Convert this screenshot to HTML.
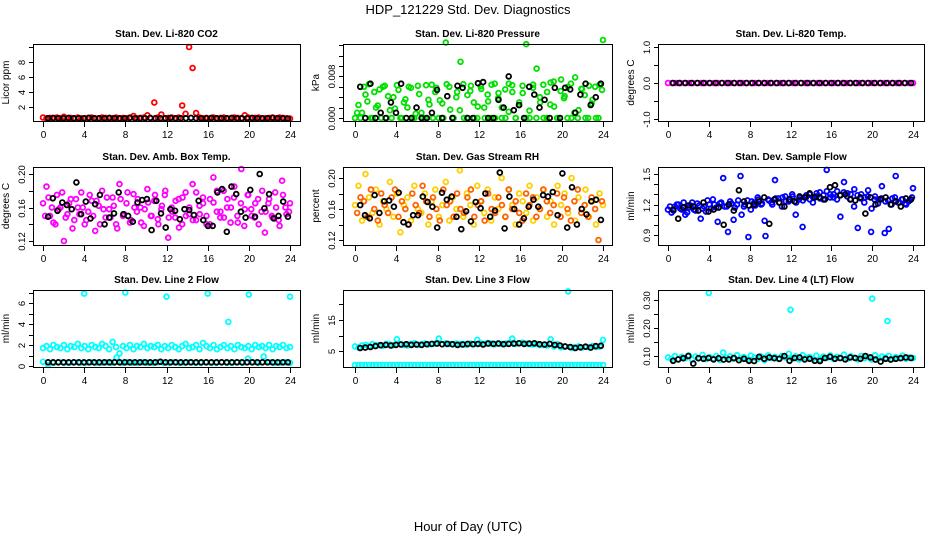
<!DOCTYPE html>
<html><head><meta charset="utf-8"><style>
html,body{margin:0;padding:0;background:#fff}
svg{display:block;font-family:"Liberation Sans",sans-serif}
</style></head><body>
<svg id="c" width="936" height="540" viewBox="0 0 936 540">
<text x="468" y="14" text-anchor="middle" font-size="13">HDP_121229  Std. Dev. Diagnostics</text>
<text x="468" y="531" text-anchor="middle" font-size="13">Hour of Day (UTC)</text>
</svg>
<script>
const xTicks=[0,4,8,12,16,20,24];
const co2Red=[0.6,0.5,0.55,0.5,0.6,0.5,0.7,0.5,0.55,0.5,0.6,0.5,0.5,0.55,0.6,0.5,0.5,0.6,0.55,0.5,0.5,0.6,0.5,0.55,0.5,0.6,0.8,0.5,0.55,0.6,0.9,0.5,2.6,0.6,1.0,0.5,0.55,0.6,0.5,0.6,2.2,1.1,10.0,7.2,1.2,0.6,0.5,0.55,0.5,0.6,0.5,0.55,0.6,0.5,0.5,0.6,0.55,0.5,0.9,0.6,0.5,0.55,0.6,0.5,0.5,0.55,0.6,0.5,0.6,0.55,0.5,0.45];
const co2Black=[0.5,0.55,0.5,0.5,0.55,0.5,0.5,0.5,0.55,0.5,0.5,0.5,0.55,0.5,0.5,0.5,0.55,0.5,0.5,0.5,0.55,0.5,0.5,0.5,0.55,0.5,0.5,0.5,0.55,0.5,0.5,0.5,0.55,0.5,0.5,0.5,0.55,0.5,0.5,0.5,0.55,0.5,0.5,0.5,0.55,0.5,0.5,0.45];
const pressGreenA=[0.0,2.5,1.0,4.5,6.5,0.0,2.0,5.5,6.0,0.0,1.5,4.0,6.3,0.0,3.0,2.0,5.8,0.0,6.2,1.0,0.0,3.5,6.4,5.0,0.0,2.8,14.5,6.0,0.0,4.0,1.5,6.5,0.0,5.2,3.0,0.0,6.1,2.0,4.5,0.0,6.6,3.8,0.0,5.5,1.2,6.3,0.0,2.5,4.8,14.2,0.0,6.4,9.5,3.0,0.0,5.0,6.8,2.2,0.0,7.4,4.2,6.0,0.0,7.8,1.5,5.6,0.0,6.2,3.5,0.0,6.4,15.0];
const pressGreenB=[1.0,0.0,6.0,3.2,0.0,5.0,2.4,0.0,6.2,4.2,0.0,1.8,5.4,0.0,3.6,6.0,0.0,0.8,4.6,0.0,6.3,2.6,0.0,5.8,3.4,0.0,6.5,1.6,0.0,5.0,10.8,0.0,4.4,6.2,0.0,2.2,5.6,0.0,3.2,6.4,0.0,4.8,2.0,0.0,6.6,5.0,0.0,3.0,6.2,0.0,1.4,5.8,0.0,4.0,6.4,0.0,2.6,7.0,0.0,5.2,3.8,0.0,6.6,1.0,0.0,5.6,4.4,0.0,2.8,6.0,0.0,5.4];
const pressBlack=[6.0,0.0,6.6,0.0,1.0,0.0,3.0,1.0,6.6,0.0,0.0,2.0,0.0,0.0,1.0,5.4,0.0,4.2,0.0,6.2,5.8,0.0,0.0,6.7,6.9,0.0,0.0,3.5,2.0,8.0,1.5,2.5,0.0,6.0,4.5,2.0,3.5,0.0,5.8,0.0,5.8,5.5,1.0,4.5,6.6,2.5,4.0,6.6];
const tempMagenta=[0,0,0,0,0,0,0,0,0,0,0,0,0,0,0,0,0,0,0,0,0,0,0,0,0,0,0,0,0,0,0,0,0,0,0,0,0,0,0,0,0,0,0,0,0,0,0,0,0,0,0,0,0,0,0,0,0,0,0,0];
const tempBlack=[0,0,0,0,0,0,0,0,0,0,0,0,0,0,0,0,0,0,0,0,0,0,0,0,0,0,0,0,0,0,0,0,0,0,0,0,0,0,0,0];
const ambA=[.165,.185,.150,.142,.175,.160,.120,.152,.170,.145,.160,.178,.140,.155,.168,.132,.162,.180,.148,.158,.172,.140,.188,.150,.165,.142,.176,.155,.160,.138,.182,.150,.168,.146,.158,.175,.124,.160,.148,.170,.140,.178,.152,.188,.145,.162,.172,.150,.140,.166,.180,.155,.148,.170,.160,.185,.142,.206,.158,.175,.150,.165,.140,.180,.155,.170,.148,.160,.138,.175,.152,.165];
const ambB=[.150,.172,.160,.140,.158,.178,.148,.165,.135,.170,.152,.160,.145,.175,.150,.168,.140,.158,.172,.148,.162,.135,.170,.152,.178,.145,.160,.170,.142,.158,.166,.150,.175,.140,.162,.180,.148,.155,.168,.136,.172,.150,.160,.145,.178,.152,.165,.140,.170,.196,.155,.148,.180,.160,.142,.172,.150,.165,.138,.175,.158,.148,.170,.155,.130,.165,.150,.178,.145,.192,.160,.155];
const ambBlack=[.149,.171,.156,.166,.163,.158,.190,.152,.167,.147,.164,.175,.140,.148,.153,.178,.152,.150,.143,.166,.169,.170,.133,.168,.153,.136,.158,.156,.146,.158,.157,.151,.168,.145,.138,.138,.178,.182,.131,.185,.176,.155,.148,.181,.149,.200,.159,.176,.147,.150,.167,.149];
const rhYellow=[.165,.190,.145,.205,.175,.155,.185,.140,.170,.160,.195,.150,.180,.130,.165,.175,.145,.190,.160,.155,.180,.140,.170,.185,.150,.165,.195,.145,.175,.160,.210,.150,.180,.165,.140,.190,.170,.155,.185,.145,.175,.160,.200,.150,.185,.165,.140,.180,.170,.155,.190,.145,.175,.160,.185,.150,.170,.140,.190,.165,.180,.155,.200,.145,.175,.160,.185,.150,.170,.140,.180,.165];
const rhRed=[.155,.175,.170,.150,.185,.160,.145,.180,.165,.155,.175,.185,.150,.170,.160,.140,.180,.165,.155,.190,.170,.150,.175,.160,.145,.185,.165,.170,.150,.180,.160,.155,.175,.185,.150,.165,.170,.145,.180,.160,.155,.175,.165,.150,.185,.160,.170,.155,.145,.180,.165,.175,.150,.160,.185,.170,.155,.165,.180,.150,.175,.160,.145,.170,.185,.155,.165,.150,.175,.160,.120,.170];
const rhBlack=[.165,.152,.148,.178,.155,.170,.171,.163,.181,.143,.140,.152,.152,.176,.169,.163,.136,.181,.172,.176,.150,.134,.157,.144,.169,.161,.180,.150,.158,.207,.135,.176,.160,.140,.148,.163,.172,.163,.178,.176,.182,.152,.206,.136,.188,.140,.160,.153,.170,.172,.146];
const flowBlueA=[1.15,1.12,1.18,1.20,1.15,1.10,1.17,1.22,1.14,1.19,1.16,1.13,1.20,1.25,1.17,1.21,1.46,1.18,1.23,1.05,1.20,1.48,1.18,1.24,1.15,1.22,1.27,1.20,1.04,1.25,1.22,1.44,1.26,1.18,1.28,1.23,1.30,1.10,1.25,0.98,1.27,1.30,1.22,1.28,1.32,1.25,1.54,1.30,1.27,1.33,1.29,1.42,1.31,1.25,1.35,0.97,1.30,1.27,1.34,1.16,1.28,1.25,1.38,1.23,0.96,1.26,1.48,1.22,1.25,1.20,1.24,1.36];
const flowBlueB=[1.18,1.14,1.20,1.16,1.22,1.12,1.19,1.15,1.21,1.06,1.18,1.24,1.16,1.20,1.03,1.22,1.18,0.93,1.21,1.17,1.24,1.10,1.20,0.88,1.23,1.19,1.25,1.21,0.89,1.24,1.20,1.26,1.22,1.27,1.23,1.25,1.28,1.22,1.27,1.24,1.29,1.25,1.27,1.31,1.26,1.29,1.33,1.27,1.30,1.25,1.08,1.32,1.28,1.30,1.18,1.29,1.26,1.22,1.28,0.93,1.25,1.21,1.26,0.92,1.24,1.20,1.27,1.22,1.25,1.21,1.23,1.27];
const flowBlack=[1.15,1.06,1.17,1.19,1.18,1.14,1.22,1.13,1.15,1.17,1.00,1.20,1.14,1.34,1.23,1.19,1.20,1.23,1.27,1.01,1.25,1.22,1.18,1.25,1.23,1.28,1.27,1.31,1.27,1.27,1.25,1.37,1.39,1.29,1.30,1.25,1.24,1.27,1.11,1.27,1.20,1.25,1.27,1.20,1.23,1.18,1.26,1.25];
const l2Band=[1.7,1.9,1.6,2.0,1.8,1.7,2.0,1.6,1.9,1.8,2.1,1.7,1.9,1.6,2.0,1.8,1.7,2.1,1.9,1.6,2.3,1.8,1.2,1.9,1.7,2.0,1.6,1.9,1.8,2.1,1.7,1.9,1.8,2.0,1.6,1.9,1.7,2.0,1.8,1.6,1.9,2.1,1.7,1.8,2.0,1.6,2.2,1.9,1.7,2.0,1.6,1.8,2.0,1.7,1.9,1.6,2.0,1.8,1.7,1.9,1.6,2.0,1.8,1.9,1.7,2.0,1.6,1.9,1.8,2.0,1.7,1.8];
const l2Low=[0.4,0.1,0.3,0.35,0.3,0.3,0.35,0.3,0.3,0.35,0.3,0.3,0.35,0.3,0.8,0.3,0.35,0.3,0.3,0.35,0.3,0.3,0.35,0.3,0.3,0.35,0.3,0.3,0.35,0.3,0.3,0.35,0.3,0.3,0.35,0.3,0.3,0.35,0.3,0.7,0.35,0.3,0.9,0.35,0.3,0.3,0.35,0.3];
const l2SpikeHours=[4,8,12,16,18,20,24];
const l2SpikeVals=[6.9,7.0,6.6,6.9,4.2,6.8,6.6];
const l2Black=[0.35,0.35,0.35,0.35,0.35,0.35,0.35,0.35,0.35,0.35,0.35,0.35,0.35,0.35,0.35,0.35,0.35,0.35,0.35,0.35,0.35,0.35,0.4,0.35,0.35,0.35,0.35,0.35,0.35,0.35,0.35,0.35,0.35,0.35,0.35,0.35,0.35,0.35,0.35,0.35,0.35,0.35,0.35,0.35,0.35,0.35,0.35,0.35];
const l3Band=[6.5,6.2,6.8,7.0,6.6,7.2,6.9,7.0,6.7,7.3,7.1,6.9,8.8,7.2,7.0,6.8,7.3,7.5,7.0,7.2,7.4,7.1,7.3,7.4,9.0,7.2,7.5,7.3,7.1,7.4,7.2,7.3,7.0,7.4,7.2,8.6,7.5,7.3,7.6,7.4,7.2,7.5,7.3,7.4,7.6,9.0,7.3,7.5,7.7,7.4,7.2,7.1,7.3,6.9,7.0,6.8,8.8,6.5,7.2,6.2,6.4,24.2,6.0,6.3,6.5,6.1,6.4,6.2,6.6,6.3,6.4,8.6];
const l3Low=[0.5,0.5,0.5,0.5,0.5,0.5,0.5,0.5,0.5,0.5,0.5,0.5,0.5,0.5,0.5,0.5,0.5,0.5,0.5,0.5,0.5,0.5,0.5,0.5,0.5,0.5,0.5,0.5,0.5,0.5,0.5,0.5,0.5,0.5,0.5,0.5,0.5,0.5,0.5,0.5,0.5,0.5,0.5,0.5,0.5,0.5,0.5,0.5,0.5,0.5,0.5,0.5,0.5,0.5,0.5,0.5,0.5,0.5,0.5,0.5,0.5,0.5,0.5,0.5,0.5,0.5,0.5,0.5,0.5,0.5,0.5,0.5];
const l3Black=[6.0,6.1,6.3,6.6,6.9,7.0,6.8,7.0,7.1,7.2,7.0,7.1,7.0,7.2,7.3,7.4,7.2,7.3,7.2,7.0,7.1,7.3,7.2,7.3,7.1,7.4,7.3,7.4,7.2,7.3,7.4,7.5,7.3,7.4,7.5,7.2,7.1,7.3,7.0,6.8,6.5,6.3,6.0,6.2,6.4,6.1,6.6,6.7];
const l4Band=[.095,.090,.100,.088,.097,.092,.102,.087,.098,.093,.104,.089,.096,.091,.100,.086,.112,.094,.099,.090,.103,.092,.096,.088,.101,.094,.090,.098,.085,.102,.093,.097,.089,.100,.095,.108,.091,.099,.087,.103,.094,.096,.090,.101,.088,.098,.093,.102,.089,.097,.092,.105,.090,.099,.094,.088,.100,.092,.096,.087,.103,.091,.098,.094,.100,.089,.096,.092,.101,.090,.095,.093];
const l4SpikeHours=[4,12,20,21.5];
const l4SpikeVals=[.325,.265,.305,.225];
const l4Black=[.083,.088,.092,.100,.073,.092,.090,.093,.088,.092,.087,.088,.093,.085,.090,.083,.082,.097,.090,.095,.092,.090,.100,.083,.093,.095,.088,.090,.083,.082,.093,.097,.090,.093,.088,.095,.093,.090,.100,.095,.087,.080,.090,.087,.090,.092,.095,.093];

const NS='http://www.w3.org/2000/svg';
const svg=document.getElementById('c');
function mk(tag,attrs,parent){const e=document.createElementNS(NS,tag);for(const k in attrs)e.setAttribute(k,attrs[k]);(parent||svg).appendChild(e);return e;}
const cols=[{l:33,r:300,x0:43,x24:290},{l:343,r:612,x0:355,x24:603},{l:658,r:924,x0:668,x24:913}];
const rows=[{t:44,b:121},{t:167,b:245},{t:290,b:367}];
const panels=[
 {slug:'co2',title:'Stan. Dev. Li-820 CO2',yl:'Licor ppm',c:0,r:0,v1:2,p1:107,v2:8,p2:62,ticks:[2,4,6,8,10],labels:['2','4','6','8',''],
  series:[{v:co2Red,col:'#ff0000'},{v:co2Black,col:'#000',h0:0.5,h1:23.8}]},
 {slug:'pressure',title:'Stan. Dev. Li-820 Pressure',yl:'kPa',c:1,r:0,v1:0,p1:118,v2:8,p2:76.4,ticks:[0,2,4,6,8,10,12,14],labels:['0.000','','','','0.008','','',''],
  series:[{v:pressGreenA,col:'#00e000'},{v:pressGreenB,col:'#00e000',h0:0.2,h1:23.9},{v:pressBlack,col:'#000',h0:0.5,h1:23.8}]},
 {slug:'temp',title:'Stan. Dev. Li-820 Temp.',yl:'degrees C',c:2,r:0,v1:-1,p1:119,v2:1,p2:47,ticks:[-1,-0.5,0,0.5,1],labels:['-1.0','','0.0','','1.0'],
  series:[{v:tempMagenta,col:'#ff00ff'},{v:tempBlack,col:'#000',h0:0.5,h1:23.8}]},
 {slug:'ambbox',title:'Stan. Dev. Amb. Box Temp.',yl:'degrees C',c:0,r:1,v1:0.12,p1:241,v2:0.20,p2:174,ticks:[0.12,0.14,0.16,0.18,0.20],labels:['0.12','','0.16','','0.20'],
  series:[{v:ambA,col:'#ff00ff'},{v:ambB,col:'#ff00ff',h0:0.2,h1:23.9},{v:ambBlack,col:'#000',h0:0.5,h1:23.8}]},
 {slug:'rh',title:'Stan. Dev. Gas Stream RH',yl:'percent',c:1,r:1,v1:0.12,p1:240,v2:0.20,p2:178,ticks:[0.12,0.14,0.16,0.18,0.20],labels:['0.12','','0.16','','0.20'],
  series:[{v:rhYellow,col:'#ffd000'},{v:rhRed,col:'#ff6000',h0:0.2,h1:23.9},{v:rhBlack,col:'#000',h0:0.5,h1:23.8}]},
 {slug:'sampleflow',title:'Stan. Dev. Sample Flow',yl:'ml/min',c:2,r:1,v1:0.9,p1:235,v2:1.5,p2:174,ticks:[0.9,1.0,1.1,1.2,1.3,1.4,1.5],labels:['0.9','','','1.2','','','1.5'],
  series:[{v:flowBlueA,col:'#0000ff'},{v:flowBlueB,col:'#0000ff',h0:0.2,h1:23.9},{v:flowBlack,col:'#000',h0:0.5,h1:23.8}]},
 {slug:'line2',title:'Stan. Dev. Line 2 Flow',yl:'ml/min',c:0,r:2,v1:0,p1:366,v2:6,p2:303,ticks:[0,1,2,3,4,5,6,7],labels:['0','','2','','4','','6',''],
  series:[{v:l2Band,col:'#00ffff'},{v:l2Low,col:'#00ffff'},{v:l2SpikeVals,hrs:l2SpikeHours,col:'#00ffff'},{v:l2Black,col:'#000',h0:0.5,h1:23.8}]},
 {slug:'line3',title:'Stan. Dev. Line 3 Flow',yl:'ml/min',c:1,r:2,v1:0,p1:366.6,v2:15,p2:320,ticks:[5,10,15,20],labels:['5','','15',''],
  series:[{v:l3Band,col:'#00ffff'},{v:l3Low,col:'#00ffff'},{v:l3Black,col:'#000',h0:0.5,h1:23.8}]},
 {slug:'line4',title:'Stan. Dev. Line 4 (LT) Flow',yl:'ml/min',c:2,r:2,v1:0.10,p1:356,v2:0.30,p2:300,ticks:[0.10,0.15,0.20,0.25,0.30],labels:['0.10','','0.20','','0.30'],
  series:[{v:l4Band,col:'#00ffff'},{v:l4SpikeVals,hrs:l4SpikeHours,col:'#00ffff'},{v:l4Black,col:'#000',h0:0.5,h1:23.8}]}
];
panels.forEach(p=>{
 const C=cols[p.c],R=rows[p.r];
 const xs=h=>C.x0+(C.x24-C.x0)*h/24;
 const ys=v=>p.p1+(p.p2-p.p1)*(v-p.v1)/(p.v2-p.v1);
 const g=mk('g',{});
 
 
 const t=mk('text',{x:(C.l+C.r)/2,y:R.t-7,'text-anchor':'middle','font-size':'10','font-weight':'bold'},g);
 t.textContent=p.title;
 
 
 const yl=mk('text',{x:0,y:0,'text-anchor':'middle','font-size':'10',transform:`translate(${C.l-24},${(R.t+R.b)/2}) rotate(-90)`},g);
 yl.textContent=p.yl;
 
 
 p.series.forEach(s=>{
  const sg=mk('g',{fill:'none',stroke:s.col,'stroke-width':'1.8'},g);
  
  
  const n=s.v.length,h0=s.h0||0,h1=s.h1===undefined?24:s.h1;
  s.v.forEach((v,i)=>{
   const h=s.hrs?s.hrs[i]:h0+(h1-h0)*i/(n-1);
   const c=mk('circle',{cx:xs(h).toFixed(1),cy:ys(v).toFixed(1),r:'2.4'},sg);
   
   
  });
 });
 const box=mk('rect',{x:C.l+0.5,y:R.t+0.5,width:C.r-C.l,height:R.b-R.t,fill:'none',stroke:'#000','stroke-width':'1'},g);
 
 
 xTicks.forEach(h=>{
  const x=Math.round(xs(h))+0.5;
  mk('line',{x1:x,x2:x,y1:R.b,y2:R.b+6,stroke:'#000'},g);
  const tl=mk('text',{x:x,y:R.b+17,'text-anchor':'middle','font-size':'10'},g);
  tl.textContent=String(h);
  
  
 });
 p.ticks.forEach((v,i)=>{
  const y=Math.round(ys(v))+0.5;
  mk('line',{x1:C.l-4,x2:C.l,y1:y,y2:y,stroke:'#000'},g);
  if(p.labels[i]){
   const tl=mk('text',{x:0,y:0,'text-anchor':'middle','font-size':'9.5',transform:`translate(${C.l-8},${y}) rotate(-90)`},g);
   tl.textContent=p.labels[i];
   
   
  }
 });
});
</script>
</body></html>
